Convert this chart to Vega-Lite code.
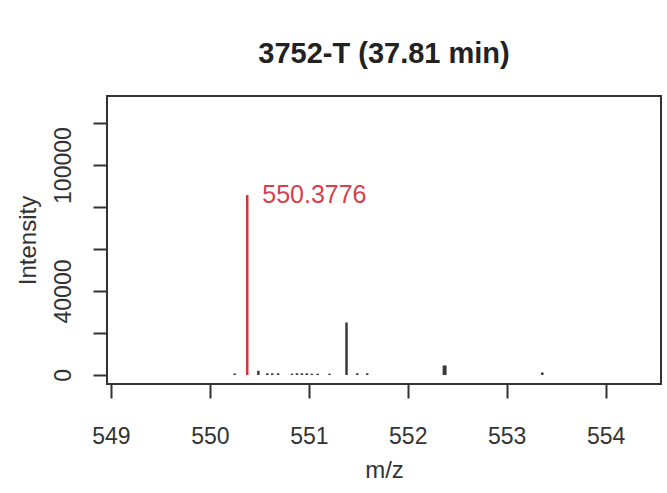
{
  "$schema": "https://vega.github.io/schema/vega-lite/v6.json",
  "width": 554,
  "height": 288,
  "autosize": {"type": "none"},
  "padding": {"left": 107, "top": 96, "right": 6, "bottom": 109},
  "background": "#ffffff",
  "title": {
    "text": "3752-T (37.81 min)",
    "font": "Liberation Sans",
    "fontSize": 29,
    "fontWeight": "bold",
    "color": "#222222",
    "anchor": "middle",
    "offset": 27
  },
  "config": {
    "font": "Liberation Sans",
    "view": {"stroke": "#333333", "strokeWidth": 2},
    "axis": {
      "domain": false,
      "grid": false,
      "tickColor": "#333333",
      "tickWidth": 2,
      "tickSize": 14,
      "labelFont": "Liberation Sans",
      "labelFontSize": 23,
      "labelColor": "#333333",
      "titleFont": "Liberation Sans",
      "titleFontSize": 24,
      "titleFontWeight": "normal",
      "titleColor": "#333333"
    }
  },
  "data": {
    "values": [
      {"mz": 550.25, "intensity": 700, "highlight": "no", "label": ""},
      {"mz": 550.3776, "intensity": 85700, "highlight": "yes", "label": "550.3776"},
      {"mz": 550.49, "intensity": 2000, "highlight": "no", "label": ""},
      {"mz": 550.58, "intensity": 800, "highlight": "no", "label": ""},
      {"mz": 550.63, "intensity": 800, "highlight": "no", "label": ""},
      {"mz": 550.69, "intensity": 800, "highlight": "no", "label": ""},
      {"mz": 550.83, "intensity": 600, "highlight": "no", "label": ""},
      {"mz": 550.88, "intensity": 800, "highlight": "no", "label": ""},
      {"mz": 550.93, "intensity": 800, "highlight": "no", "label": ""},
      {"mz": 550.98, "intensity": 800, "highlight": "no", "label": ""},
      {"mz": 551.03, "intensity": 600, "highlight": "no", "label": ""},
      {"mz": 551.09, "intensity": 600, "highlight": "no", "label": ""},
      {"mz": 551.21, "intensity": 600, "highlight": "no", "label": ""},
      {"mz": 551.381, "intensity": 25000, "highlight": "no", "label": ""},
      {"mz": 551.49, "intensity": 800, "highlight": "no", "label": ""},
      {"mz": 551.59, "intensity": 800, "highlight": "no", "label": ""},
      {"mz": 552.365, "intensity": 4500, "highlight": "no", "label": ""},
      {"mz": 552.38, "intensity": 4500, "highlight": "no", "label": ""},
      {"mz": 553.36, "intensity": 1200, "highlight": "no", "label": ""}
    ]
  },
  "layer": [
    {
      "mark": {"type": "rule", "strokeWidth": 2.5},
      "encoding": {
        "x": {
          "field": "mz",
          "type": "quantitative",
          "title": "m/z",
          "scale": {"domain": [548.96, 554.56], "nice": false, "zero": false},
          "axis": {"values": [549, 550, 551, 552, 553, 554], "format": "d", "labelPadding": 27, "titlePadding": 10}
        },
        "y": {
          "field": "intensity",
          "type": "quantitative",
          "title": "Intensity",
          "scale": {"domain": [-4300, 132900], "nice": false, "zero": false},
          "axis": {
            "values": [0, 20000, 40000, 60000, 80000, 100000, 120000],
            "format": "d",
            "labelAngle": -90,
            "labelAlign": "center",
            "labelBaseline": "bottom",
            "labelPadding": 18,
            "labelExpr": "datum.value == 0 || datum.value == 40000 || datum.value == 100000 ? datum.label : ''",
            "titlePadding": 12
          }
        },
        "y2": {"datum": 0},
        "color": {
          "field": "highlight",
          "type": "nominal",
          "scale": {"domain": ["no", "yes"], "range": ["#3a3a3a", "#d8303c"]},
          "legend": null
        },
        "strokeWidth": {
          "field": "highlight",
          "type": "nominal",
          "scale": {"domain": ["no", "yes"], "range": [2.5, 3.5]},
          "legend": null
        }
      }
    },
    {
      "transform": [{"filter": "datum.highlight == 'yes'"}],
      "mark": {
        "type": "text",
        "align": "left",
        "baseline": "middle",
        "dx": 15,
        "fontSize": 25,
        "color": "#d6404c",
        "font": "Liberation Sans"
      },
      "encoding": {
        "x": {"field": "mz", "type": "quantitative"},
        "y": {"field": "intensity", "type": "quantitative"},
        "text": {"field": "label"}
      }
    }
  ]
}
